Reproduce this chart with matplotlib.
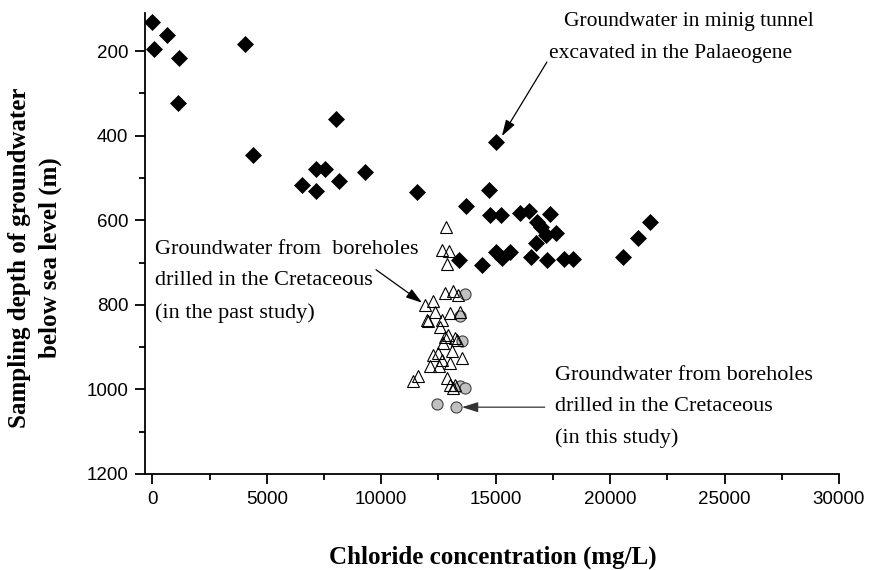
import matplotlib
matplotlib.use("Agg")
import matplotlib.pyplot as plt
from matplotlib.ticker import MultipleLocator

# ---- data (chloride mg/L, depth m) ----
tunnel_cl = [0, 70, 626, 1165, 1107, 4054, 4390, 8024, 6550, 7150, 7557, 7163, 8170,
             9278, 11572, 15000, 13686, 14690, 14750, 15250, 16064, 16460, 16826,
             17378, 16970, 17190, 17628, 16752, 16533, 17233, 17990, 18400, 13393,
             14417, 15000, 15293, 15626, 20548, 21205, 21757]
tunnel_depth = [131, 194, 161, 216, 322, 184, 446, 360, 516, 479, 479, 530, 507,
                487, 534, 416, 567, 529, 587, 587, 583, 579, 603,
                585, 615, 634, 630, 654, 686, 693, 691, 692, 695,
                707, 674, 690, 674, 687, 642, 603]

past_cl = [12827, 12652, 12958, 12857, 11909, 12271, 12783, 13119, 13364, 11983,
           12346, 12639, 13001, 13438, 12564, 12053, 12927, 13220, 12709, 12271,
           12490, 12639, 13075, 13512, 13001, 12127, 12534, 11616, 11398, 12857,
           13001, 13220, 13132, 12783, 13307]
past_depth = [616, 670, 672, 703, 800, 792, 772, 768, 776, 835,
              816, 835, 819, 816, 852, 839, 871, 878, 890, 918,
              914, 930, 910, 926, 937, 945, 945, 969, 981, 973,
              989, 989, 996, 875, 882]

this_cl = [13656, 13438, 13512, 13438, 13656, 12446, 13276]
this_depth = [774, 826, 886, 993, 996, 1034, 1041]

x_ticks = [0, 5000, 10000, 15000, 20000, 25000, 30000]
y_ticks = [200, 400, 600, 800, 1000, 1200]

W, H = 869, 570
fig = plt.figure(figsize=(W / 100, H / 100), dpi=100)
ax = fig.add_axes([145 / W, 1 - 474 / H, (839 - 145) / W, (474 - 13) / H])

ax.plot(this_cl, this_depth, linestyle="none", marker="o", ms=8,
        mfc="#c0c0c0", mec="#404040", mew=0.8, zorder=2)
ax.plot(past_cl, past_depth, linestyle="none", marker="^", ms=9,
        mfc="none", mec="black", mew=0.8, zorder=3)
ax.plot(tunnel_cl, tunnel_depth, linestyle="none", marker="D", ms=8.2,
        mfc="black", mec="black", mew=0.5, zorder=4)

ax.set_xlim(-320, 30000)
ax.set_ylim(1200, 110)
ax.set_xticks(x_ticks)
ax.set_yticks(y_ticks)
ax.xaxis.set_minor_locator(MultipleLocator(2500))
ax.yaxis.set_minor_locator(MultipleLocator(100))
for s in ["top", "right"]:
    ax.spines[s].set_visible(False)
for s in ["left", "bottom"]:
    ax.spines[s].set_linewidth(1.3)
ax.tick_params(which="major", length=7, width=1.3, direction="out",
               labelsize=13.5, pad=5)
ax.tick_params(which="minor", length=4, width=1.3, direction="out")
for lab in ax.get_xticklabels() + ax.get_yticklabels():
    lab.set_fontfamily("Liberation Sans")

serif = "Liberation Serif"
fig.text(493 / W, 1 - 557 / H, "Chloride concentration (mg/L)", ha="center",
         va="center", fontsize=18, fontweight="bold", family=serif)
fig.text(35 / W, 1 - 258 / H, "Sampling depth of groundwater\nbelow sea level (m)",
         ha="center", va="center", rotation=90, fontsize=18, fontweight="bold",
         family=serif, linespacing=1.4)

arrow = dict(arrowstyle="-|>,head_length=0.7,head_width=0.22", color="black",
             lw=0.9, shrinkA=0, shrinkB=0, mutation_scale=14)

ax.text(23450, 131, "Groundwater in minig tunnel", ha="center", va="center",
        fontsize=15.5, family=serif)
ax.text(22650, 205, "excavated in the Palaeogene", ha="center", va="center",
        fontsize=15.5, family=serif)
ax.annotate("", xy=(15273, 401), xytext=(17238, 226), arrowprops=arrow)

ax.text(105, 745, "Groundwater from  boreholes\ndrilled in the Cretaceous\n(in the past study)",
        ha="left", va="center", fontsize=16, family=serif, linespacing=1.86)
ax.annotate("", xy=(11783, 795), xytext=(9773, 717), arrowprops=arrow)

ax.text(17585, 1041, "Groundwater from boreholes\ndrilled in the Cretaceous\n(in this study)",
        ha="left", va="center", fontsize=16, family=serif, linespacing=1.86)
arrow3 = dict(arrow, color="#333333")
ax.annotate("", xy=(13526, 1042), xytext=(17145, 1042), arrowprops=arrow3)

fig.savefig("out.png", dpi=100)
